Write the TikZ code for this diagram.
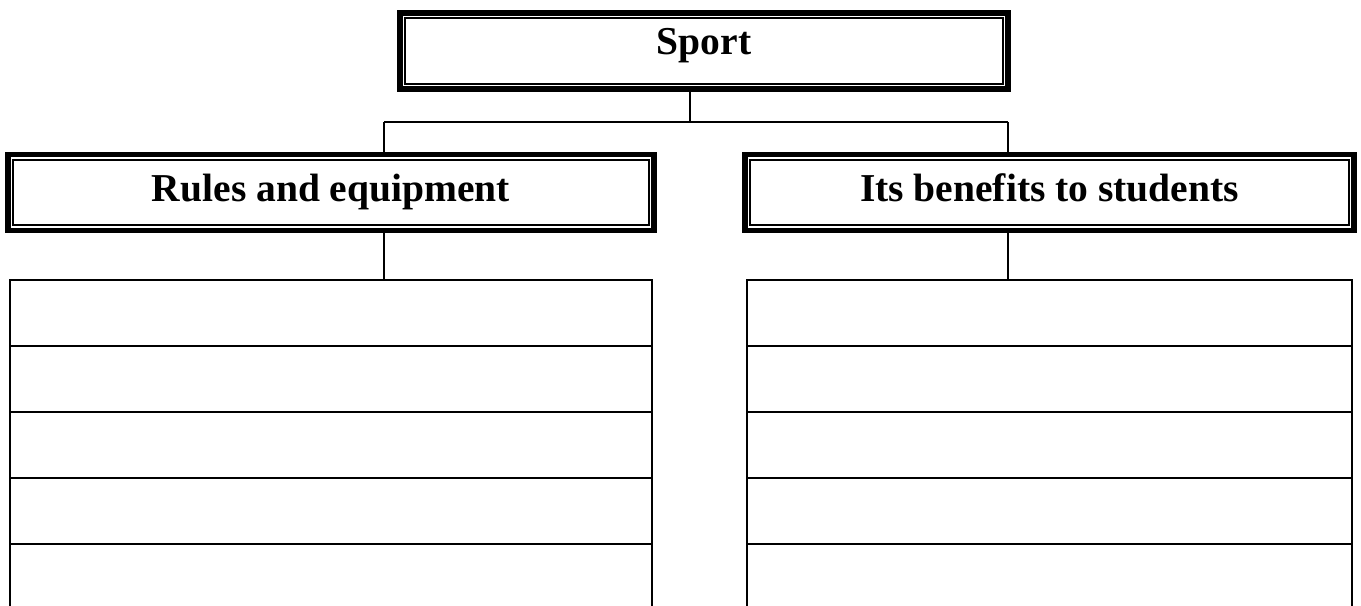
\documentclass[tikz,border=0pt]{standalone}
\usepackage{fontspec}
\setmainfont{Liberation Serif}
\usetikzlibrary{positioning}

\begin{document}
\begin{tikzpicture}[
    x=0.02cm, y=-0.02cm,
    line width=1.6pt,
    titlebox/.style={draw, line width=3pt, inner sep=0pt, minimum height=1.52cm,
        text height=0.53cm, text depth=0.17cm,
        font=\fontsize{22.5}{27}\selectfont\bfseries,
        path picture={\draw[line width=1.2pt]
            ([shift={(0.105cm,-0.105cm)}]path picture bounding box.north west) rectangle
            ([shift={(-0.105cm,0.105cm)}]path picture bounding box.south east);}},
    cell/.style={draw, line width=1.5pt, inner sep=0pt, minimum height=1.32cm}
]
   \useasboundingbox (0,0) rectangle (1361,605);

   % Title boxes
   \node[titlebox, minimum width=12.16cm, text height=0.6cm, text depth=0.44cm] (sport) at (704,51) {Sport};
   \node[titlebox, minimum width=12.92cm] (rules) at (331,192.5) {Rules and equipment};
   \node[titlebox, minimum width=12.18cm] (benefits) at (1049.5,192.5) {Its benefits to students};

   % Branch points
   \coordinate (split) at (690,122);
   \coordinate (lbranch) at (384,122);
   \coordinate (rbranch) at (1008,122);

   % Empty rows to fill in
   \foreach \i in {0,...,4} {
      \node[cell, minimum width=12.84cm] (left\i) at (331,313+66*\i) {};
      \node[cell, minimum width=12.1cm] (right\i) at (1049.5,313+66*\i) {};
   }

   % Connectors
   \draw (split |- sport.south) -- (split);
   \draw (lbranch) -- (rbranch);
   \draw (lbranch) -- (lbranch |- rules.north);
   \draw (rbranch) -- (rbranch |- benefits.north);
   \draw (lbranch |- rules.south) -- (lbranch |- left0.north);
   \draw (rbranch |- benefits.south) -- (rbranch |- right0.north);
\end{tikzpicture}
\end{document}
